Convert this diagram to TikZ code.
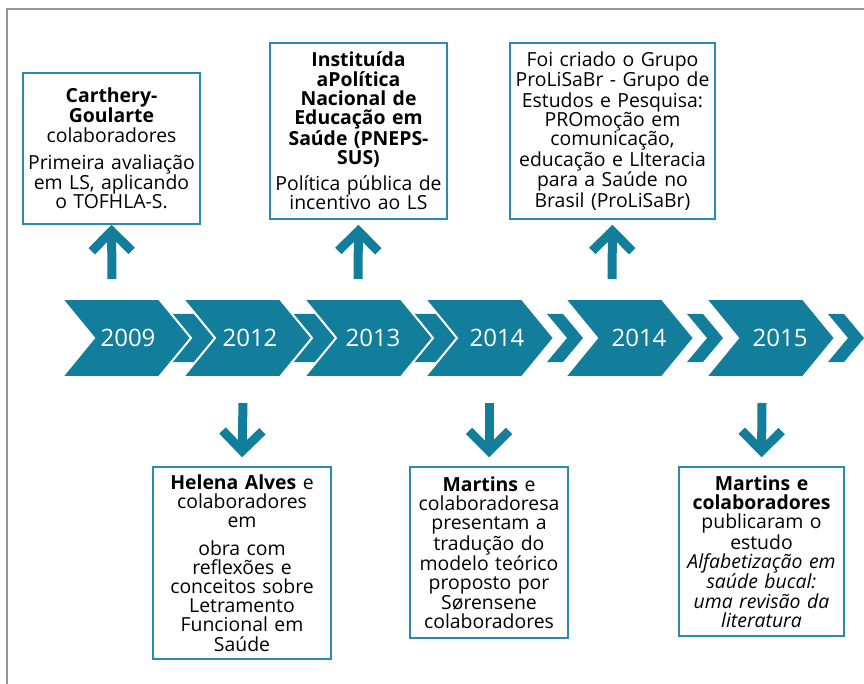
\documentclass[tikz,border=0pt]{standalone}
\usepackage{fontspec}
\setmainfont{Open Sans}
\usetikzlibrary{arrows.meta}
\definecolor{chevteal}{RGB}{19,126,156}
\definecolor{boxteal}{RGB}{42,140,172}
\definecolor{framegray}{RGB}{150,150,150}
\setlength{\lineskiplimit}{-20pt}
\begin{document}
\begin{tikzpicture}[x=1pt,y=-1pt,
yearchev/.pic={
\path[pic actions] (0,0) -- ++(97,0) -- ++(32,39) -- ++(-32,39) -- ++(-97,0) -- ++(32,-39) -- cycle;
},
linkchev/.pic={
\path[pic actions] (0,0) -- ++(#1,0) -- ++(20,24) -- ++(-20,24) -- ++(-#1,0) -- ++(20,-24) -- cycle;
},
event/.style={draw=boxteal, line width=1.5pt, align=center, inner xsep=1pt, inner ysep=0pt, font=\fontsize{19.4}{19.2}\selectfont},
year/.style={text=white, font=\fontsize{24}{26}\selectfont},
fatarrow/.style={draw=chevteal, line width=9pt, -{Straight Barb[length=20pt,width=40pt,sharp]}}]
\useasboundingbox (0,0) rectangle (864,684);
\draw[framegray, line width=2pt] (7,684) -- (7,9) -- (864,9);
\foreach \x in {168,289,410} \pic[fill=chevteal] at (\x,314) {linkchev=32};
\foreach \x in {547,687,828} \pic[fill=chevteal] at (\x,314) {linkchev=16};
\foreach \x in {62,183,304,425,565,706} \pic[fill=chevteal, draw=white, line width=2pt] at (\x,299) {yearchev};
\node[year] (y1) at (128,338) {2009};
\node[year] (y2) at (250,338) {2012};
\node[year] (y3) at (373,338) {2013};
\node[year] (y4) at (497,338) {2014};
\node[year] (y5) at (639,338) {2014};
\node[year] (y6) at (780,338) {2015};
\node[event, text width=175pt, minimum height=151pt] (b1) at (111.5,148.5)
{\textbf{Carthery-\\Goularte}\\colaboradores\\[8pt]Primeira avaliação\\em LS, aplicando\\o TOFHLA-S.};
\node[event, text width=175pt, minimum height=176pt] (b2) at (358.5,131)
{\textbf{Instituída\\aPolítica\\Nacional de\\Educação em\\Saúde (PNEPS-\\SUS)}\\[7pt]Política pública de\\incentivo ao LS};
\node[event, text width=203pt, minimum height=176pt] (b3) at (612.5,131)
{Foi criado o Grupo\\ProLiSaBr - Grupo de\\Estudos e Pesquisa:\\PROmoção em\\comunicação,\\educação e LIteracia\\para a Saúde no\\Brasil (ProLiSaBr)};
\node[event, text width=176pt, minimum height=192pt] (b4) at (242,563)
{\textbf{Helena Alves} e\\colaboradores\\em\\[8pt]obra com\\reflexões e\\conceitos sobre\\Letramento\\Funcional em\\Saúde};
\node[event, text width=156pt, minimum height=171pt] (b5) at (489,552.5)
{\textbf{Martins} e\\colaboradoresa\\presentam a\\tradução do\\modelo teórico\\proposto por\\Sørensene\\colaboradores};
\node[event, text width=163pt, minimum height=169pt] (b6) at (761.5,551.5)
{\textbf{Martins e\\colaboradores}\\publicaram o\\estudo\\\textit{Alfabetização em\\saúde bucal:\\uma revisão da\\literatura}};
\coordinate (t1) at (112,279);
\coordinate (t2) at (358,279);
\coordinate (t3) at (612,279);
\coordinate (t4) at (243,403);
\coordinate (t5) at (489,403);
\coordinate (t6) at (762,403);
\draw[fatarrow] (t1) -- (b1.south);
\draw[fatarrow] (t2) -- ([yshift=-5pt]b2.south);
\draw[fatarrow] (t3) -- ([yshift=-5pt]b3.south);
\draw[fatarrow] (t4) -- ([yshift=9pt]b4.north);
\draw[fatarrow] (t5) -- ([yshift=9pt]b5.north);
\draw[fatarrow] (t6) -- ([yshift=9pt]b6.north);
\end{tikzpicture}
\end{document}
